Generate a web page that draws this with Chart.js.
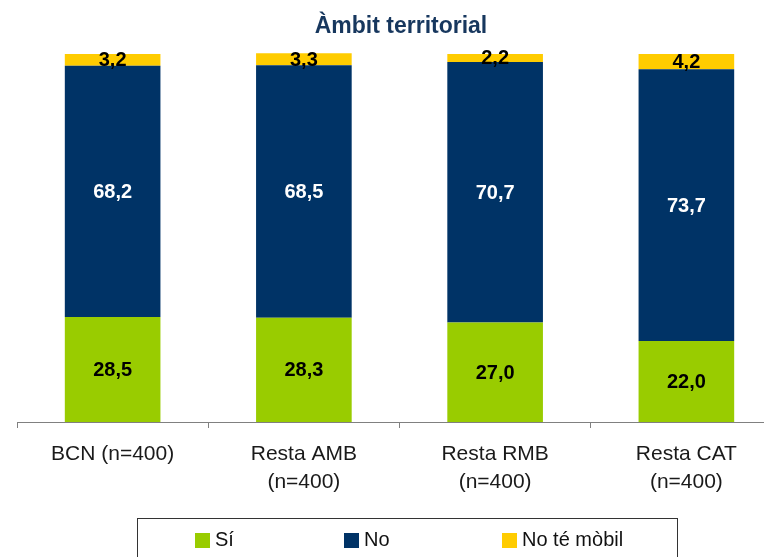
<!DOCTYPE html>
<html>
<head>
<meta charset="utf-8">
<script src="https://cdn.jsdelivr.net/npm/chart.js@4.4.1/dist/chart.umd.min.js"></script>
<style>
  html, body { margin: 0; padding: 0; background: #fff; overflow: hidden; }
  #wrap { position: relative; width: 800px; height: 557px; }
</style>
</head>
<body>
<div id="wrap"><canvas id="chart" width="800" height="557"></canvas></div>
<script>
const categories = [['BCN (n=400)'], ['Resta AMB', '(n=400)'], ['Resta RMB', '(n=400)'], ['Resta CAT', '(n=400)']];
const siValues = [28.5, 28.3, 27.0, 22.0];
const noValues = [68.2, 68.5, 70.7, 73.7];
const noMobilValues = [3.2, 3.3, 2.2, 4.2];
const seriesNames = ['Sí', 'No', 'No té mòbil'];
const seriesColors = ['#99CC00', '#003366', '#FFCC00'];
const labelColors = ['#000000', '#ffffff', '#000000'];

const FONT = "'Liberation Sans', Arial, sans-serif";

// value labels inside each segment
const valueLabels = {
    id: 'valueLabels',
    afterDatasetsDraw(chart) {
        const ctx = chart.ctx;
        ctx.save();
        ctx.font = 'bold 20px ' + FONT;
        ctx.textAlign = 'center';
        ctx.textBaseline = 'middle';
        chart.data.datasets.forEach((ds, i) => {
            chart.getDatasetMeta(i).data.forEach((bar, j) => {
                const txt = ds.data[j].toFixed(1).replace('.', ',');
                ctx.fillStyle = labelColors[i];
                ctx.fillText(txt, bar.x, (bar.y + bar.base) / 2 + 1);
            });
        });
        ctx.restore();
    }
};

// title and boxed legend drawn by hand
const titleAndLegend = {
    id: 'titleAndLegend',
    afterDraw(chart) {
        const ctx = chart.ctx;
        ctx.save();
        ctx.font = 'bold 23px ' + FONT;
        ctx.fillStyle = '#17375E';
        ctx.textAlign = 'center';
        ctx.textBaseline = 'alphabetic';
        ctx.fillText('Àmbit territorial', 401, 33);

        ctx.strokeStyle = '#333333';
        ctx.lineWidth = 1;
        ctx.strokeRect(137.5, 518.5, 540, 60);

        const itemX = [195, 344, 502];
        ctx.font = '20px ' + FONT;
        ctx.textAlign = 'left';
        ctx.textBaseline = 'middle';
        chart.data.datasets.forEach((ds, i) => {
            ctx.fillStyle = ds.backgroundColor;
            ctx.fillRect(itemX[i], 533, 15, 15);
            ctx.fillStyle = '#111111';
            ctx.fillText(ds.label, itemX[i] + 20, 540);
        });
        ctx.restore();
    }
};

new Chart(document.getElementById('chart').getContext('2d'), {
    type: 'bar',
    data: {
        labels: categories,
        datasets: [
            { label: seriesNames[0], data: siValues, backgroundColor: seriesColors[0] },
            { label: seriesNames[1], data: noValues, backgroundColor: seriesColors[1] },
            { label: seriesNames[2], data: noMobilValues, backgroundColor: seriesColors[2] }
        ]
    },
    options: {
        responsive: false,
        animation: false,
        layout: { padding: { top: 48, left: 17, right: 18, bottom: 0 } },
        datasets: { bar: { barPercentage: 0.5, categoryPercentage: 1 } },
        plugins: {
            legend: { display: false },
            title: { display: false },
            tooltip: { enabled: false }
        },
        scales: {
            x: {
                stacked: true,
                grid: { offset: true, drawOnChartArea: false, tickLength: 6, color: '#808080' },
                border: { color: '#808080' },
                ticks: {
                    color: '#1a1a1a',
                    padding: 12,
                    maxRotation: 0,
                    autoSkip: false,
                    font: { family: FONT, size: 21, lineHeight: 1.35 }
                },
                afterFit(scale) { scale.height = 135; }
            },
            y: {
                stacked: true,
                display: false,
                min: 0,
                max: 101.5
            }
        }
    },
    plugins: [valueLabels, titleAndLegend]
});
</script>
</body>
</html>
